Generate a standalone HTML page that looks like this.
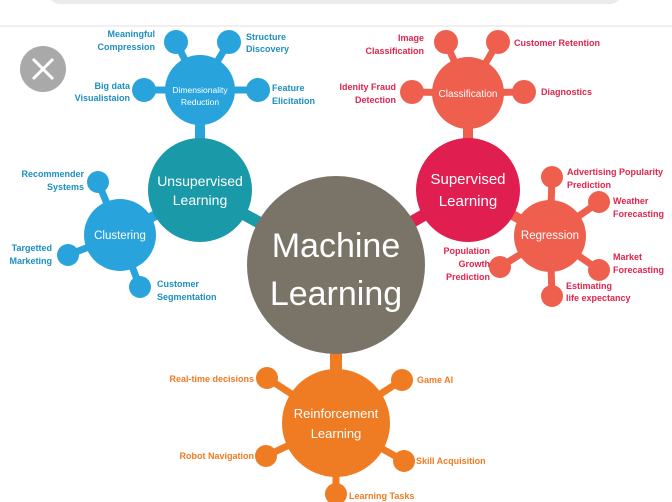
<!DOCTYPE html>
<html><head><meta charset="utf-8"><style>
html,body{margin:0;padding:0;background:#fff;width:672px;height:502px;overflow:hidden}
svg{display:block}
text{font-family:"Liberation Sans",sans-serif}
.s{font-size:9px;font-weight:bold}
.b{fill:#1d8fc0}.r{fill:#e0244e}.o{fill:#ef7b22}
.w{fill:#fff}
</style></head><body>
<svg width="672" height="502" viewBox="0 0 672 502">
<rect x="48" y="-20" width="574" height="24" rx="12" fill="#ebebeb"/>
<line x1="0" y1="26" x2="672" y2="26" stroke="#f0f0f0" stroke-width="2"/>
<circle cx="43" cy="69" r="23" fill="#a9a9a9"/>
<path d="M33 59L53 79M53 59L33 79" stroke="#fff" stroke-width="3"/>

<!-- main connectors -->
<g stroke-width="12">
<line x1="336" y1="265" x2="200" y2="190" stroke="#1a9aa8"/>
<line x1="336" y1="265" x2="468" y2="190" stroke="#e01e50"/>
<line x1="336" y1="265" x2="336" y2="423" stroke="#ef7b22"/>
</g>

<!-- Unsupervised -->
<g stroke="#29a3dc" stroke-width="7">
<line x1="200" y1="90" x2="176" y2="42"/><line x1="200" y1="90" x2="229" y2="42"/>
<line x1="200" y1="90" x2="144" y2="90"/><line x1="200" y1="90" x2="258" y2="90"/>
<line x1="200" y1="90" x2="200" y2="190" stroke-width="10"/>
<line x1="120" y1="235" x2="200" y2="190" stroke-width="10"/>
<line x1="120" y1="235" x2="98" y2="182"/><line x1="120" y1="235" x2="68" y2="255"/><line x1="120" y1="235" x2="140" y2="287"/>
</g>
<g fill="#29a3dc">
<circle cx="176" cy="42" r="12"/><circle cx="229" cy="42" r="12"/><circle cx="144" cy="90" r="12"/><circle cx="258" cy="90" r="12"/>
<circle cx="200" cy="90" r="35"/>
<circle cx="98" cy="182" r="11"/><circle cx="68" cy="255" r="11"/><circle cx="140" cy="287" r="11"/>
<circle cx="120" cy="235" r="36"/>
</g>
<circle cx="200" cy="190" r="52" fill="#1a9aa8"/>

<!-- Supervised -->
<g stroke="#ef5f4e" stroke-width="7">
<line x1="468" y1="93" x2="446" y2="42"/><line x1="468" y1="93" x2="498" y2="42"/>
<line x1="468" y1="93" x2="412" y2="92"/><line x1="468" y1="93" x2="524" y2="92"/>
<line x1="468" y1="93" x2="468" y2="190" stroke-width="10"/>
<line x1="550" y1="236" x2="468" y2="190" stroke-width="10"/>
<line x1="550" y1="236" x2="552" y2="177"/><line x1="550" y1="236" x2="599" y2="202"/><line x1="550" y1="236" x2="599" y2="270"/><line x1="550" y1="236" x2="552" y2="296"/><line x1="550" y1="236" x2="500" y2="267"/>
</g>
<g fill="#ef5f4e">
<circle cx="446" cy="42" r="12"/><circle cx="498" cy="42" r="12"/><circle cx="412" cy="92" r="12"/><circle cx="524" cy="92" r="12"/>
<circle cx="468" cy="93" r="36"/>
<circle cx="552" cy="177" r="11"/><circle cx="599" cy="202" r="11"/><circle cx="599" cy="270" r="11"/><circle cx="552" cy="296" r="11"/><circle cx="500" cy="267" r="11"/>
<circle cx="550" cy="236" r="36"/>
</g>
<circle cx="468" cy="190" r="52" fill="#e01e50"/>

<!-- Reinforcement -->
<g stroke="#ef7b22" stroke-width="7">
<line x1="336" y1="423" x2="267" y2="378"/><line x1="336" y1="423" x2="402" y2="380"/>
<line x1="336" y1="423" x2="266" y2="456"/><line x1="336" y1="423" x2="404" y2="461"/><line x1="336" y1="423" x2="336" y2="494"/>
</g>
<g fill="#ef7b22">
<circle cx="267" cy="378" r="11"/><circle cx="402" cy="380" r="11"/><circle cx="266" cy="456" r="11"/><circle cx="404" cy="461" r="11"/><circle cx="336" cy="494" r="11"/>
<circle cx="336" cy="423" r="54"/>
</g>

<circle cx="336" cy="265" r="89" fill="#7a7367"/>
<text x="336" y="257" font-size="34" class="w" text-anchor="middle">Machine</text>
<text x="336" y="305" font-size="34" class="w" text-anchor="middle">Learning</text>

<g text-anchor="middle" class="w">
<text x="200" y="186" font-size="14">Unsupervised</text>
<text x="200" y="205" font-size="14">Learning</text>
<text x="200" y="93" font-size="8.5">Dimensionality</text>
<text x="200" y="105" font-size="8.5">Reduction</text>
<text x="120" y="239" font-size="11.5">Clustering</text>
<text x="468" y="184" font-size="15">Supervised</text>
<text x="468" y="206" font-size="15">Learning</text>
<text x="468" y="97" font-size="10">Classification</text>
<text x="550" y="239" font-size="11.5">Regression</text>
<text x="336" y="418" font-size="13">Reinforcement</text>
<text x="336" y="438" font-size="13">Learning</text>
</g>

<g class="s b">
<text x="155" y="37" text-anchor="end">Meaningful</text><text x="155" y="50" text-anchor="end">Compression</text>
<text x="246" y="40">Structure</text><text x="246" y="52">Discovery</text>
<text x="130" y="89" text-anchor="end">Big data</text><text x="130" y="101" text-anchor="end">Visualistaion</text>
<text x="272" y="91">Feature</text><text x="272" y="104">Elicitation</text>
<text x="84" y="177" text-anchor="end">Recommender</text><text x="84" y="190" text-anchor="end">Systems</text>
<text x="52" y="251" text-anchor="end">Targetted</text><text x="52" y="264" text-anchor="end">Marketing</text>
<text x="157" y="287">Customer</text><text x="157" y="300">Segmentation</text>
</g>
<g class="s r">
<text x="424" y="41" text-anchor="end">Image</text><text x="424" y="54" text-anchor="end">Classification</text>
<text x="514" y="46">Customer Retention</text>
<text x="396" y="90" text-anchor="end">Idenity Fraud</text><text x="396" y="103" text-anchor="end">Detection</text>
<text x="541" y="95">Diagnostics</text>
<text x="567" y="175">Advertising Popularity</text><text x="567" y="188">Prediction</text>
<text x="613" y="204">Weather</text><text x="613" y="217">Forecasting</text>
<text x="613" y="260">Market</text><text x="613" y="273">Forecasting</text>
<text x="566" y="289">Estimating</text><text x="566" y="301">life expectancy</text>
<text x="490" y="254" text-anchor="end">Population</text><text x="490" y="267" text-anchor="end">Growth</text><text x="490" y="280" text-anchor="end">Prediction</text>
</g>
<g class="s o">
<text x="254" y="382" text-anchor="end">Real-time decisions</text>
<text x="417" y="383">Game AI</text>
<text x="254" y="459" text-anchor="end">Robot Navigation</text>
<text x="416" y="464">Skill Acquisition</text>
<text x="349" y="499">Learning Tasks</text>
</g>
</svg>
</body></html>
